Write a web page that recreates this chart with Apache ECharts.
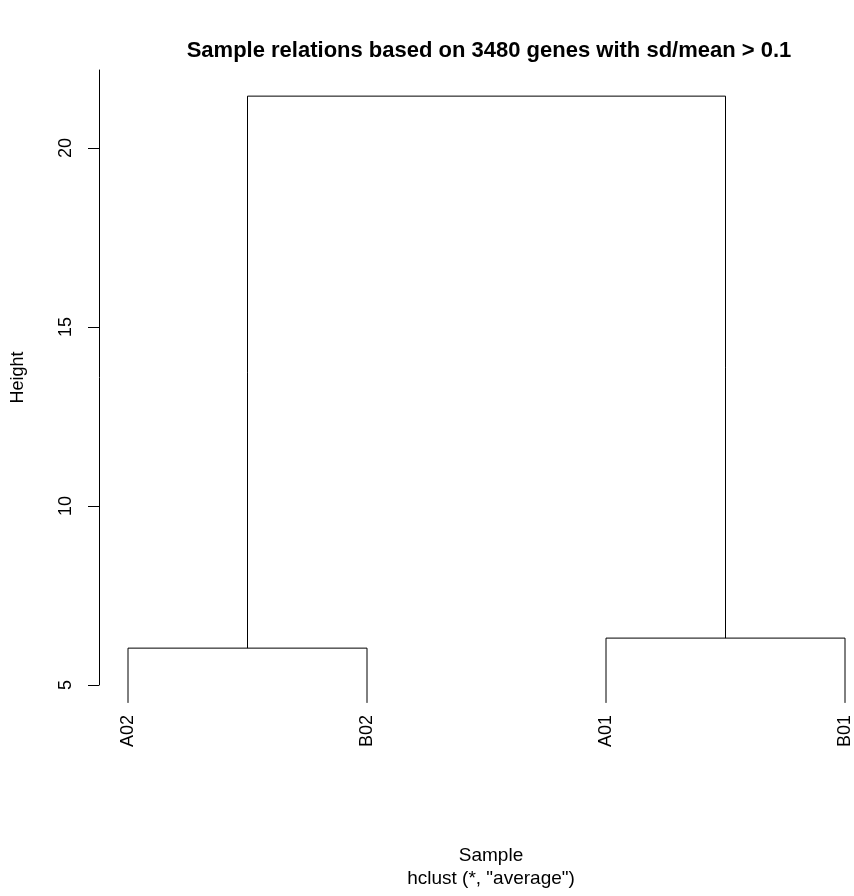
<!DOCTYPE html>
<html>
<head>
<meta charset="utf-8">
<title>Sample relations</title>
<script src="https://cdn.jsdelivr.net/npm/echarts@6/dist/echarts.min.js"></script>
</head>
<body style="margin:0;background:#fff;">
<div id="main" style="width:854px;height:896px;"></div>
<script>
// leaves in dendrogram order
var leaves = ['A02', 'B02', 'A01', 'B01'];
var leafPos = [1, 2, 3, 4];
var leafBottom = 4.5;
// merge heights: left pair, right pair, root
var mergeLeft = 6.03;
var mergeRight = 6.31;
var mergeRoot = 21.45;

function u(x1, y1, x2, y2, top) {
	return [[x1, y1], [x1, top], [x2, top], [x2, y2]];
}
var midL = (leafPos[0] + leafPos[1]) / 2;
var midR = (leafPos[2] + leafPos[3]) / 2;
var segs = [
	u(leafPos[0], leafBottom, leafPos[1], leafBottom, mergeLeft),
	u(leafPos[2], leafBottom, leafPos[3], leafBottom, mergeRight),
	u(midL, mergeLeft, midR, mergeRight, mergeRoot)
];

var chart = echarts.init(document.getElementById('main'));
chart.setOption({
	animation: false,
	title: [
		{ text: 'Sample relations based on 3480 genes with sd/mean > 0.1', left: 484, top: 35, textAlign: 'center',
			textStyle: { fontFamily: 'Liberation Sans', fontSize: 22, fontWeight: 'bold', color: '#000' } },
		{ text: 'Sample\nhclust (*, "average")', left: 486, top: 839, textAlign: 'center',
			textStyle: { fontFamily: 'Liberation Sans', fontSize: 19, fontWeight: 'normal', color: '#000', lineHeight: 23 } }
	],
	grid: { left: 128, right: 9, top: 70, bottom: 211, outerBoundsMode: 'none' },
	xAxis: {
		type: 'value', min: 1, max: 4,
		axisLine: { show: false }, axisTick: { show: false }, splitLine: { show: false },
		axisLabel: { customValues: leafPos, rotate: 90, margin: 30, formatter: function (v) { return leaves[Math.round(v) - 1]; },
			fontFamily: 'Liberation Sans', fontSize: 18, color: '#000' }
	},
	yAxis: {
		type: 'value', min: 5, max: 22.18, offset: 29,
		name: 'Height', nameLocation: 'middle', nameGap: 72, nameRotate: 90,
		nameTextStyle: { fontFamily: 'Liberation Sans', fontSize: 18, color: '#000' },
		axisLine: { show: true, lineStyle: { color: '#000' } },
		axisTick: { show: true, customValues: [5, 10, 15, 20], length: 11, lineStyle: { color: '#000' } },
		splitLine: { show: false },
		axisLabel: { customValues: [5, 10, 15, 20], rotate: 90, margin: 24, fontFamily: 'Liberation Sans', fontSize: 18, color: '#000' }
	},
	series: segs.map(function (s) {
		return { type: 'line', data: s, symbol: 'none', clip: false, lineStyle: { color: '#000', width: 1 } };
	})
});
</script>
</body>
</html>
